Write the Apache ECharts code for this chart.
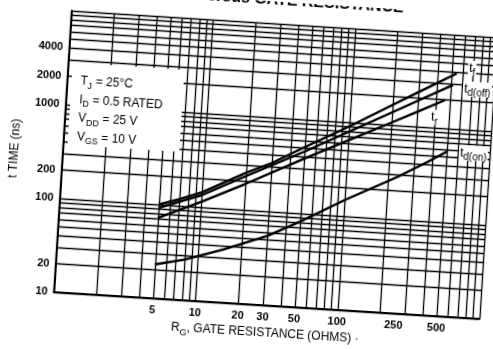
<!DOCTYPE html>
<html><head><meta charset="utf-8">
<script src="https://cdn.jsdelivr.net/npm/echarts@6/dist/echarts.min.js"></script>
<style>
html,body{margin:0;padding:0;background:#fff;overflow:hidden;}
#c{width:493px;height:349px;transform:rotate(3.6deg);transform-origin:246.5px 174.5px;}
</style></head><body><div id="c"></div>
<script>
// axis tick labels
const xTicks = [5, 10, 20, 30, 50, 100, 250, 500];
const yTicks = [10, 20, 100, 200, 1000, 2000, 4000];
// log-paper grid lines
const xGrid = [1,2,3,4,5,6,7,8,9,10,20,30,40,50,60,70,80,90,100,200,300,400,500,600,700,800,900,1000];
const yGrid = [10,20,30,40,50,60,70,80,90,100,200,300,400,500,600,700,800,900,1000,2000,3000,4000,5000,6000,7000,8000,9000,10000];
// conditions text
const condLines = [['T', 'J', ' = 25°C'], ['I', 'D', ' = 0.5 RATED'], ['V', 'DD', ' = 25 V'], ['V', 'GS', ' = 10 V']];
// curves: gate resistance (ohms) and time (ns)
const rgTf    = [5, 7, 10, 20, 30, 50, 100, 200, 300, 540];
const tF      = [100, 118, 145, 250, 330, 510, 900, 1650, 2350, 3900];
const rgTdoff = [5, 10, 20, 50, 100, 200, 300, 516];
const tDoff   = [92, 135, 230, 457, 793, 1375, 1900, 2925];
const rgTr    = [5, 10, 20, 50, 100, 200, 300, 460];
const tR      = [72, 115, 190, 384, 641, 1070, 1447, 2000];
const rgTdon  = [5, 8, 15, 30, 50, 100, 230, 370, 500];
const tDon    = [23, 27, 37, 55, 82, 148, 283, 430, 570];

const pairs = (xs, ys) => xs.map((x, i) => [x, ys[i]]);
const FF = 'Liberation Sans';
const rich = {
  m: {fontSize: 13, lineHeight: 13, verticalAlign: 'top', color: '#000', fontFamily: FF},
  s: {fontSize: 10, lineHeight: 10, padding: [6, 0, 0, 0], verticalAlign: 'top', color: '#000', fontFamily: FF}
};
const gRich = {
  m: {fontSize: 12, lineHeight: 12, verticalAlign: 'top', fill: '#000', fontFamily: FF},
  s: {fontSize: 9, lineHeight: 9, padding: [6, 0, 0, 0], verticalAlign: 'top', fill: '#000', fontFamily: FF}
};
function curve(name, data, label, off) {
  return {
    type: 'line', name: name, data: data, symbol: 'none', smooth: false, z: 5,
    lineStyle: {color: '#000', width: 2.4, join: 'round'},
    endLabel: {show: true, formatter: label, rich: rich, offset: off, backgroundColor: '#fff', padding: [1, 1]},
    animation: false, silent: true
  };
}
const plain = v => String(v);
const chart = echarts.init(document.getElementById('c'));
chart.setOption({
  backgroundColor: '#fff',
  animation: false,
  title: {text: 'SWITCHING TIME versus GATE RESISTANCE', right: 95, top: -14,
    textStyle: {fontSize: 16, fontWeight: 'bold', color: '#000', fontFamily: FF}},
  grid: {left: 60, right: 5, top: 22, bottom: 45, containLabel: false},
  xAxis: {type: 'log', logBase: 10, min: 1, max: 1000,
    axisLine: {show: true, lineStyle: {color: '#000', width: 2}},
    axisTick: {show: false}, splitLine: {show: false},
    axisLabel: {customValues: xTicks, formatter: plain, color: '#000', fontSize: 11, fontWeight: 'bold', margin: 6, fontFamily: FF},
    name: '{m|R}{s|G}{m|, GATE RESISTANCE (OHMS) ·}', nameLocation: 'middle', nameGap: 18,
    nameTextStyle: {rich: {m: Object.assign({}, rich.m, {fontSize: 12, lineHeight: 12}), s: Object.assign({}, rich.s, {fontSize: 9, lineHeight: 9})}}},
  yAxis: {type: 'log', logBase: 10, min: 10, max: 10000,
    axisLine: {show: true, lineStyle: {color: '#000', width: 2}},
    axisTick: {show: false}, splitLine: {show: false},
    axisLabel: {customValues: yTicks, formatter: plain, color: '#000', fontSize: 11, fontWeight: 'bold', margin: 6, fontFamily: FF},
    name: 't TIME (ns)', nameLocation: 'middle', nameGap: 40,
    nameTextStyle: {color: '#000', fontSize: 12, fontFamily: FF}},
  graphic: [
    {type: 'rect', left: 66, top: 74, shape: {width: 112, height: 82}, style: {fill: '#fff'}, z: 50}
  ].concat(condLines.map((r, i) => ({
    type: 'text', left: 75, top: 86 + i * 18.5, z: 51,
    style: {text: '{m|' + r[0] + '}{s|' + r[1] + '}{m|' + r[2] + '}', rich: gRich}
  }))),
  series: [
    {type: 'line', data: [], symbol: 'none', z: 1, silent: true, animation: false,
      markLine: {silent: true, symbol: ['none', 'none'], label: {show: false}, animation: false,
        lineStyle: {color: '#000', width: 1.3, type: 'solid'}, emphasis: {disabled: true},
        data: xGrid.map(v => ({xAxis: v})).concat(yGrid.map(v => ({yAxis: v})))}},
    curve('tf', pairs(rgTf, tF), '{m|t}{s|f}', [3, -6]),
    curve('tdoff', pairs(rgTdoff, tDoff), '{m|t}{s|d(off)}', [2, 3]),
    curve('tr', pairs(rgTr, tR), '{m|t}{s|r}', [-22, 18]),
    curve('tdon', pairs(rgTdon, tDon), '{m|t}{s|d(on)}', [4, 0])
  ]
});
</script></body></html>
